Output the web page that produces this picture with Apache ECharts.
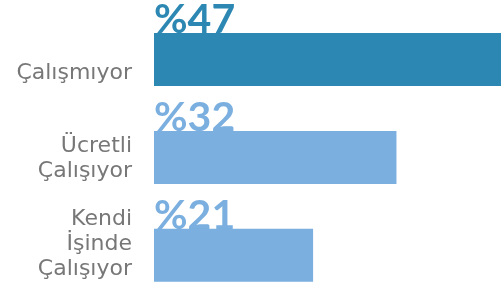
<!DOCTYPE html>
<html>
<head>
<meta charset="utf-8">
<script src="https://cdn.jsdelivr.net/npm/echarts@6/dist/echarts.min.js"></script>
<style>
  html, body { margin: 0; padding: 0; background: #fff; }
  #chart { width: 501px; height: 298px; }
</style>
</head>
<body>
<div id="chart"></div>
<script>
// kategoriler ve yüzdeler
var categories = ['Çalışmıyor', 'Ücretli\nÇalışıyor', 'Kendi\nİşinde\nÇalışıyor'];
var values = [47, 32, 21];
var barColors = ['#2c88b3', '#7aafdf', '#7aafdf'];

var chart = echarts.init(document.getElementById('chart'));

var barData = values.map(function (v, i) {
    return { value: v, itemStyle: { color: barColors[i] } };
});
var labelData = values.map(function (v, i) {
    return { value: v, label: { color: barColors[i] } };
});

var option = {
    animation: false,
    // kategori merkezleri grid kenarlarına oturuyor (boundaryGap: false)
    grid: { left: 154, right: 0, top: 59.5, bottom: 42.7 },
    xAxis: { type: 'value', min: 0, max: 45.8, show: false },
    yAxis: { type: 'category', data: categories, inverse: true, boundaryGap: false, show: false },
    series: [
        {
            // yüzde etiketleri, çubukların arkasında kalıyor
            type: 'bar',
            z: 1,
            barWidth: 53,
            barGap: '-100%',
            data: labelData,
            itemStyle: { color: 'rgba(0,0,0,0)' },
            label: {
                show: true,
                position: [0, 0],
                align: 'left',
                verticalAlign: 'bottom',
                offset: [0, 7],
                fontFamily: 'Lato',
                fontWeight: 'bold',
                fontSize: 41,
                lineHeight: 40,
                formatter: function (p) { return '%' + p.value; }
            }
        },
        {
            type: 'bar',
            z: 2,
            barWidth: 53,
            data: barData,
            label: {
                show: true,
                position: ['0%', '100%'],
                align: 'right',
                verticalAlign: 'bottom',
                offset: [-22, 0],
                color: '#777',
                fontFamily: 'DejaVu Sans',
                fontSize: 22,
                lineHeight: 25,
                formatter: function (p) { return categories[p.dataIndex]; }
            }
        }
    ]
};
chart.setOption(option);
</script>
</body>
</html>
